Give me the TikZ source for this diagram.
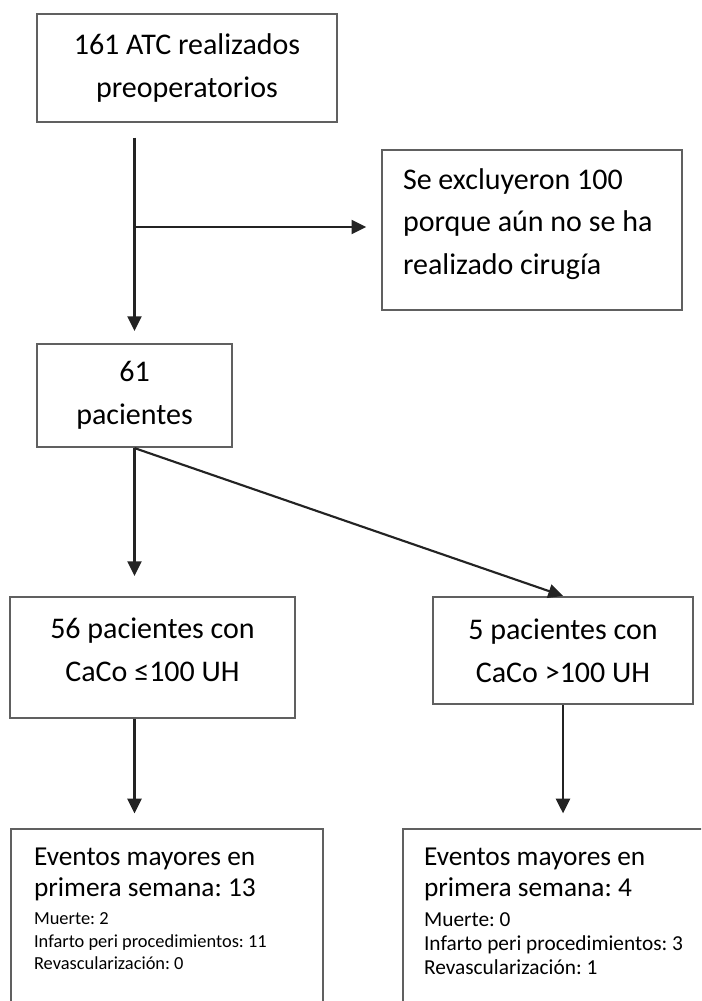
\documentclass[tikz,border=0pt]{standalone}
\usepackage{fontspec}
\setmainfont{Carlito}
\usetikzlibrary{positioning,arrows.meta,calc}
\definecolor{boxgray}{RGB}{96,96,96}
\definecolor{arrgray}{RGB}{35,35,35}
\setlength{\parindent}{0pt}
\frenchspacing
\newcommand{\mainsize}{\fontsize{22.5}{32}\selectfont}
\newcommand{\evbig}{\fontsize{20.5}{23.25}\selectfont}

\begin{document}
\begin{tikzpicture}[x=0.75pt, y=-0.75pt,
  box/.style={rectangle, draw=boxgray, line width=1.6pt, fill=white, inner sep=0pt,
              align=center, font=\mainsize},
  evbox/.style={rectangle, draw=boxgray, line width=1.6pt, fill=white, anchor=north west,
                inner ysep=14.5pt, align=flush left, font=\evbig},
  arr/.style={draw=arrgray, line width=1.6pt, -{Triangle[length=11pt,width=10.5pt]}}
]
  \clip (0,0) rectangle (701,1001);

  % boxes
  \node[box, minimum width=225pt, minimum height=81pt] (pre) at (187,68) {161 ATC realizados\\preoperatorios};
  \node[box, minimum width=225pt, minimum height=120pt, inner xsep=15.75pt, text width=193.5pt, align=flush left] (excl) at (532,230)
    {Se excluyeron 100\\porque aún no se ha\\realizado cirugía\rule[-13pt]{0pt}{0pt}};
  \node[box, minimum width=146.25pt, minimum height=77.25pt] (pac) at (134.5,395.5) {61\\pacientes};
  \node[box, minimum width=213.75pt, minimum height=90.75pt] (le) at (152.5,657.5)
    {56 pacientes con\\CaCo ≤100 UH\rule[-12pt]{0pt}{0pt}};
  \node[box, minimum width=195pt, minimum height=80.25pt] (gt) at (563,650.5) {5 pacientes con\\CaCo >100 UH};

  % events
  \node[evbox, inner xsep=17.25pt, text width=199.5pt] (ev13) at (10,828)
    {Eventos mayores en\\primera semana: 13\par\vspace{3.7pt}%
     {\fontsize{13.8}{17}\selectfont Muerte: 2\\Infarto peri procedimientos: 11\\Revascularización: 0\rule[-150pt]{0pt}{0pt}\par}};
  \node[evbox, inner xsep=15.75pt, text width=223.5pt] (ev4) at (402,828)
    {Eventos mayores en\\primera semana: 4\par\vspace{4.5pt}%
     {\fontsize{16}{18}\selectfont Muerte: 0\\Infarto peri procedimientos: 3\\Revascularización: 1\rule[-150pt]{0pt}{0pt}\par}};

  % connectors
  \coordinate (split) at (134.5,227);
  \draw[arr, shorten <=11pt, shorten >=9pt] (pre.south -| pac.north) -- (pac.north);
  \draw[arr, shorten >=11pt] (split) -- (excl.west |- split);
  \draw[arr, shorten >=15pt] (pac.south) -- (pac.south |- le.north);
  \draw[arr] (pac.south) -- (gt.north);
  \draw[arr, shorten >=11pt] (le.south -| pac.south) -- (ev13.north -| pac.south);
  \draw[arr, shorten >=11pt] (gt.south) -- (gt.south |- ev4.north);
\end{tikzpicture}
\end{document}
